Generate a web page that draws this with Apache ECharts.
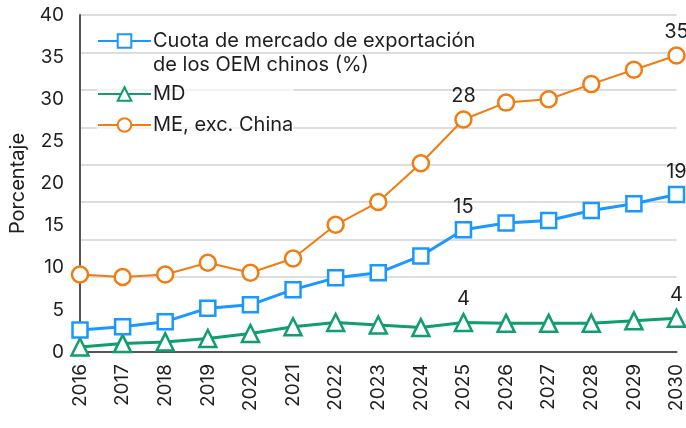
<!DOCTYPE html>
<html>
<head>
<meta charset="utf-8">
<script src="https://cdn.jsdelivr.net/npm/echarts@6/dist/echarts.min.js"></script>
<style>
    html, body { margin: 0; padding: 0; background: #fff; }
    #chart { width: 686px; height: 428px; }
</style>
</head>
<body>
<div id="chart"></div>
<script>
var years = ['2016', '2017', '2018', '2019', '2020', '2021', '2022', '2023', '2024', '2025', '2026', '2027', '2028', '2029', '2030'];
// Cuota de mercado de exportación de los OEM chinos (%)
var cuotaOem = [2.6, 3.0, 3.6, 5.2, 5.6, 7.4, 8.8, 9.4, 11.4, 14.5, 15.3, 15.6, 16.8, 17.6, 18.7];
// MD
var md = [0.6, 1.0, 1.2, 1.6, 2.2, 3.0, 3.5, 3.2, 2.9, 3.5, 3.4, 3.4, 3.4, 3.7, 4.0];
// ME, exc. China
var meExChina = [9.2, 8.9, 9.2, 10.6, 9.4, 11.1, 15.1, 17.8, 22.4, 27.6, 29.6, 30.0, 31.8, 33.5, 35.2];
// etiquetas de datos
var cuotaLabels = {9: '15', 14: '19'};
var mdLabels = {9: '4', 14: '4'};
var meLabels = {9: '28', 14: '35'};
var yTicks = [0, 5, 10, 15, 20, 25, 30, 35, 40];

var nameCuota = 'Cuota de mercado de exportación';
var nameMd = 'MD';
var nameMe = 'ME, exc. China';

var txt = '#1e1e1e';
var font = 'Inter';

function labelFrom(map) {
    return {
        show: true,
        position: 'top',
        distance: 4,
        color: txt,
        fontFamily: font,
        fontSize: 20,
        formatter: function (p) {
            return map[p.dataIndex] || '';
        }
    };
}

function makeChart(divId) {
    var myChart = echarts.init(document.getElementById(divId));
    var option = {
        animation: false,
        legend: [{
            orient: 'vertical',
            left: 97,
            top: 31,
            padding: 0,
            itemWidth: 53,
            itemHeight: 17,
            backgroundColor: 'rgba(255,255,255,0.65)',
            data: [nameCuota],
            textStyle: { color: txt, fontFamily: font, fontSize: 20, padding: [0, 0, 0, -3] }
        }, {
            orient: 'vertical',
            left: 97,
            top: 84,
            padding: 0,
            itemGap: 11,
            itemWidth: 53,
            itemHeight: 17,
            backgroundColor: 'rgba(255,255,255,0.65)',
            data: [nameMd, nameMe],
            textStyle: { color: txt, fontFamily: font, fontSize: 20, padding: [0, 0, 0, -3] }
        }],
        graphic: [{
            type: 'text',
            left: 153,
            top: 55,
            style: {
                text: 'de los OEM chinos (%)',
                fill: txt,
                font: '20px Inter',
                backgroundColor: 'rgba(255,255,255,0.65)'
            }
        }],
        grid: {
            top: 15,
            left: 79,
            right: 9,
            bottom: 76,
            containLabel: false
        },
        xAxis: {
            type: 'category',
            boundaryGap: false,
            data: years,
            axisLine: { lineStyle: { color: '#555', width: 2 } },
            axisTick: { show: false },
            axisLabel: {
                rotate: 90,
                margin: 12,
                interval: 0,
                color: txt,
                fontFamily: font,
                fontSize: 19
            }
        },
        yAxis: [{
            type: 'value',
            min: yTicks[0],
            max: yTicks[yTicks.length - 1],
            interval: 5,
            name: 'Porcentaje',
            nameLocation: 'middle',
            nameGap: 52,
            nameRotate: 90,
            nameTextStyle: { color: txt, fontFamily: font, fontSize: 20 },
            axisLine: { show: true, lineStyle: { color: '#555', width: 2 } },
            axisTick: { show: false },
            splitLine: { show: false },
            axisLabel: { margin: 16, color: txt, fontFamily: font, fontSize: 19 }
        }, {
            // líneas de cuadrícula del original
            type: 'value',
            min: 0,
            max: 9,
            interval: 1,
            position: 'left',
            axisLine: { show: false },
            axisTick: { show: false },
            axisLabel: { show: false },
            splitLine: {
                show: true,
                lineStyle: {
                    width: 1.5,
                    color: ['rgba(0,0,0,0)', 'rgba(0,0,0,0)', '#d2d2d2', '#d2d2d2', '#d2d2d2', '#d2d2d2', '#d2d2d2', '#d2d2d2', '#d2d2d2', '#d2d2d2']
                }
            }
        }],
        series: [{
            name: nameCuota,
            type: 'line',
            data: cuotaOem,
            symbol: 'rect',
            symbolSize: 15,
            z: 3,
            lineStyle: { color: '#1b98ff', width: 3 },
            itemStyle: { color: '#fff', borderColor: '#1b98ff', borderWidth: 2.5 },
            label: labelFrom(cuotaLabels)
        }, {
            name: nameMd,
            type: 'line',
            data: md,
            symbol: 'triangle',
            symbolSize: 17,
            z: 2,
            lineStyle: { color: '#0f9e6c', width: 3 },
            itemStyle: { color: '#fff', borderColor: '#0f9e6c', borderWidth: 2.5 },
            label: labelFrom(mdLabels)
        }, {
            name: nameMe,
            type: 'line',
            data: meExChina,
            symbol: 'circle',
            symbolSize: 16,
            z: 2,
            lineStyle: { color: '#f07c12', width: 2 },
            itemStyle: { color: '#fff', borderColor: '#f07c12', borderWidth: 2.5 },
            label: labelFrom(meLabels)
        }]
    };
    myChart.clear();
    myChart.setOption(option);
    return myChart;
}

makeChart('chart');
</script>
</body>
</html>
